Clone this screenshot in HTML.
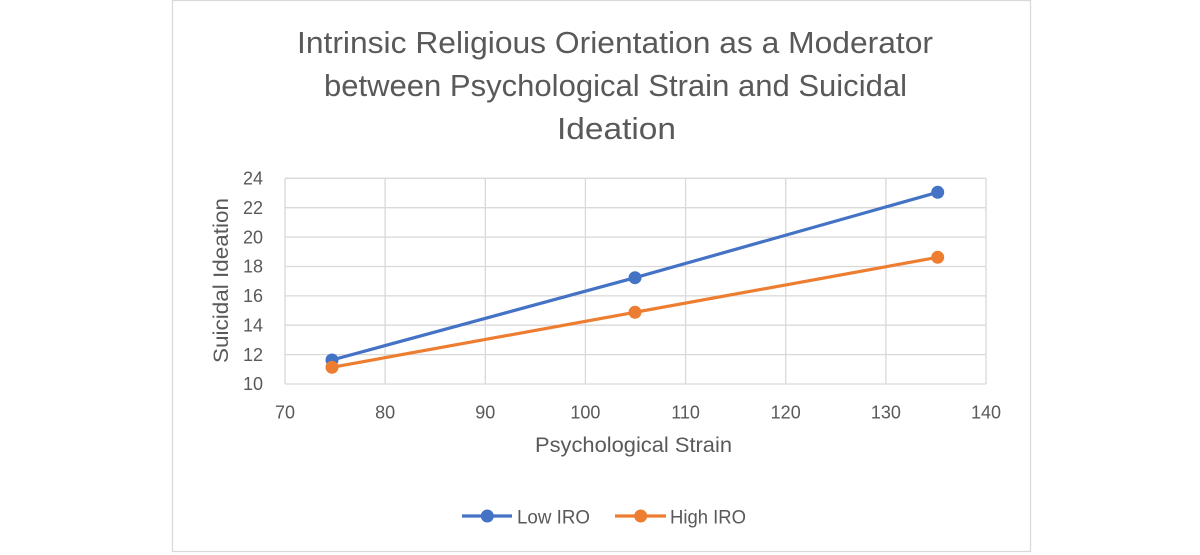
<!DOCTYPE html>
<html>
<head>
<meta charset="utf-8">
<style>
html,body{margin:0;padding:0;background:#fff;}
svg{display:block;}
text{font-family:"Liberation Sans",Arial,sans-serif;fill:#595959;}
</style>
</head>
<body>
<svg width="1200" height="555" viewBox="0 0 1200 555" xmlns="http://www.w3.org/2000/svg">
  <rect x="0" y="0" width="1200" height="555" fill="#fff"/>
  <rect x="172.5" y="0.5" width="858" height="551" fill="#fff" stroke="#d9d9d9" stroke-width="1.3"/>

  <text x="297" y="53" font-size="31" textLength="636" lengthAdjust="spacingAndGlyphs">Intrinsic Religious Orientation as a Moderator</text>
  <text x="324" y="96" font-size="31" textLength="583" lengthAdjust="spacingAndGlyphs">between Psychological Strain and Suicidal</text>
  <text x="557" y="139" font-size="31" textLength="119" lengthAdjust="spacingAndGlyphs">Ideation</text>

  <g stroke="#d9d9d9" stroke-width="1.3" fill="none">
    <line x1="285" y1="178.3" x2="986" y2="178.3"/>
    <line x1="285" y1="207.7" x2="986" y2="207.7"/>
    <line x1="285" y1="237.1" x2="986" y2="237.1"/>
    <line x1="285" y1="266.5" x2="986" y2="266.5"/>
    <line x1="285" y1="295.9" x2="986" y2="295.9"/>
    <line x1="285" y1="325.2" x2="986" y2="325.2"/>
    <line x1="285" y1="354.6" x2="986" y2="354.6"/>
    <line x1="285" y1="384" x2="986" y2="384"/>
    <line x1="285" y1="178.3" x2="285" y2="384"/>
    <line x1="385.1" y1="178.3" x2="385.1" y2="384"/>
    <line x1="485.3" y1="178.3" x2="485.3" y2="384"/>
    <line x1="585.4" y1="178.3" x2="585.4" y2="384"/>
    <line x1="685.6" y1="178.3" x2="685.6" y2="384"/>
    <line x1="785.7" y1="178.3" x2="785.7" y2="384"/>
    <line x1="885.9" y1="178.3" x2="885.9" y2="384"/>
    <line x1="986" y1="178.3" x2="986" y2="384"/>
  </g>

  <g font-size="18" text-anchor="end">
    <text x="263" y="184.5">24</text>
    <text x="263" y="213.9">22</text>
    <text x="263" y="243.3">20</text>
    <text x="263" y="272.7">18</text>
    <text x="263" y="302.1">16</text>
    <text x="263" y="331.4">14</text>
    <text x="263" y="360.8">12</text>
    <text x="263" y="390.2">10</text>
  </g>

  <g font-size="18" text-anchor="middle">
    <text x="285" y="418.5">70</text>
    <text x="385.1" y="418.5">80</text>
    <text x="485.3" y="418.5">90</text>
    <text x="585.4" y="418.5">100</text>
    <text x="685.6" y="418.5">110</text>
    <text x="785.7" y="418.5">120</text>
    <text x="885.9" y="418.5">130</text>
    <text x="986" y="418.5">140</text>
  </g>

  <text x="535" y="452" font-size="21" textLength="197" lengthAdjust="spacingAndGlyphs">Psychological Strain</text>
  <text transform="translate(228,363) rotate(-90)" x="0" y="0" font-size="21" textLength="165" lengthAdjust="spacingAndGlyphs">Suicidal Ideation</text>

  <polyline points="332,360 635,277.7 937.7,192.3" fill="none" stroke="#4472C4" stroke-width="3.2" stroke-linejoin="round"/>
  <polyline points="332,367.3 635,312.3 937.7,257.3" fill="none" stroke="#ED7D31" stroke-width="3.2" stroke-linejoin="round"/>
  <g fill="#4472C4">
    <circle cx="332" cy="360" r="6.5"/>
    <circle cx="635" cy="277.7" r="6.5"/>
    <circle cx="937.7" cy="192.3" r="6.5"/>
  </g>
  <g fill="#ED7D31">
    <circle cx="332" cy="367.3" r="6.5"/>
    <circle cx="635" cy="312.3" r="6.5"/>
    <circle cx="937.7" cy="257.3" r="6.5"/>
  </g>

  <line x1="462" y1="516" x2="512" y2="516" stroke="#4472C4" stroke-width="3.2"/>
  <circle cx="487.3" cy="516" r="6.5" fill="#4472C4"/>
  <text x="517" y="523.5" font-size="19" textLength="73" lengthAdjust="spacingAndGlyphs">Low IRO</text>
  <line x1="615" y1="516" x2="666" y2="516" stroke="#ED7D31" stroke-width="3.2"/>
  <circle cx="640.7" cy="516" r="6.5" fill="#ED7D31"/>
  <text x="670" y="523.5" font-size="19" textLength="76" lengthAdjust="spacingAndGlyphs">High IRO</text>
</svg>
</body>
</html>
